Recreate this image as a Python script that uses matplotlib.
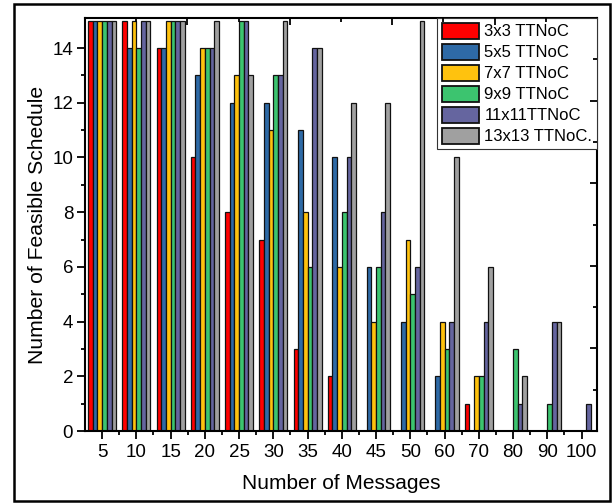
import matplotlib
matplotlib.use("Agg")
import matplotlib.pyplot as plt
from matplotlib.patches import Rectangle
from matplotlib.ticker import FixedLocator, NullFormatter
import numpy as np

plt.rcParams['font.family'] = ['Liberation Sans', 'DejaVu Sans']

categories = ['5', '10', '15', '20', '25', '30', '35', '40', '45', '50', '60', '70', '80', '90', '100']
series_names = ['3x3 TTNoC', '5x5 TTNoC', '7x7 TTNoC', '9x9 TTNoC', '11x11TTNoC', '13x13 TTNoC.']
s3x3 = [15, 15, 14, 10, 8, 7, 3, 2, 0, 0, 0, 1, 0, 0, 0]
s5x5 = [15, 14, 14, 13, 12, 12, 11, 10, 6, 4, 2, 0, 0, 0, 0]
s7x7 = [15, 15, 15, 14, 13, 11, 8, 6, 4, 7, 4, 2, 0, 0, 0]
s9x9 = [15, 14, 15, 14, 15, 13, 6, 8, 6, 5, 3, 2, 3, 1, 0]
s11x11 = [15, 15, 15, 14, 15, 13, 14, 10, 8, 6, 4, 4, 1, 4, 1]
s13x13 = [15, 15, 15, 15, 13, 15, 14, 12, 12, 15, 10, 6, 2, 4, 0]
series = [s3x3, s5x5, s7x7, s9x9, s11x11, s13x13]
colors = ['#FF0000', '#2E6AA6', '#FFC20E', '#3CC46F', '#65659F', '#A0A0A0']

fig = plt.figure(figsize=(6.14, 5.04), dpi=100)
ax = fig.add_axes([85/614, 1-431/504, (597-85)/614, (431-18)/504])

x = np.arange(len(categories))
w = 0.137
for j, (vals, c, name) in enumerate(zip(series, colors, series_names)):
    ax.bar(x + (j - 2.5) * w, vals, width=w, color=c, edgecolor='#111111',
           linewidth=0.9, label=name, zorder=2)

ax.set_xlim(-0.5, 14.45)
ax.set_ylim(0, 15.1)
ax.set_xticks(x)
ax.set_xticklabels(categories)
ax.xaxis.set_minor_locator(FixedLocator(x[:-1] + 0.5))
ax.set_yticks(np.arange(0, 15, 2))
ax.yaxis.set_minor_locator(FixedLocator(np.arange(1, 15, 2)))
ax.tick_params(axis='both', which='major', direction='out', length=5.5, width=1.3,
               labelsize=13.5, top=False, right=False)
ax.tick_params(axis='both', which='minor', direction='out', length=3, width=1.3,
               top=False, right=False)
ax.tick_params(axis='x', pad=4)
ax.tick_params(axis='y', pad=3)
for sp in ax.spines.values():
    sp.set_linewidth(1.5)

ax.set_xlabel('Number of Messages', fontsize=15, labelpad=9)
ax.set_ylabel('Number of Feasible Schedule', fontsize=15.2, labelpad=4)

leg = ax.legend(loc='upper right', bbox_to_anchor=(1, 1), borderaxespad=0,
                fontsize=12, handlelength=2.2, handleheight=1.1, labelspacing=0.26,
                handletextpad=0.35, borderpad=0.28, fancybox=False, framealpha=1,
                edgecolor='#333333')
leg.get_frame().set_linewidth(0.8)
for p in leg.get_patches():
    p.set_linewidth(1.3)

# decorative top/right ticks (inward)
axt = ax.twiny()
axt.set_xlim(0, 10)
axt.xaxis.set_major_locator(FixedLocator([2, 4, 6, 8]))
axt.xaxis.set_minor_locator(FixedLocator([1, 3, 5, 7, 9]))
axt.xaxis.set_major_formatter(NullFormatter())
axt.tick_params(axis='x', which='major', direction='in', length=5, width=1.3)
axt.tick_params(axis='x', which='minor', direction='in', length=3, width=1.3)
axr = ax.twinx()
axr.set_ylim(0, 10)
axr.yaxis.set_major_locator(FixedLocator([2, 4, 6, 8]))
axr.yaxis.set_minor_locator(FixedLocator([1, 3, 5, 7, 9]))
axr.yaxis.set_major_formatter(NullFormatter())
axr.tick_params(axis='y', which='major', direction='in', length=5, width=1.3)
axr.tick_params(axis='y', which='minor', direction='in', length=3, width=1.3)
for a in (axt, axr):
    for sp in a.spines.values():
        sp.set_visible(False)

fig.patches.append(Rectangle((14/614, 3/504), (610-14)/614, (500-3)/504,
                             transform=fig.transFigure, fill=False,
                             edgecolor='black', linewidth=1.8))

fig.savefig('out.png', dpi=100)
